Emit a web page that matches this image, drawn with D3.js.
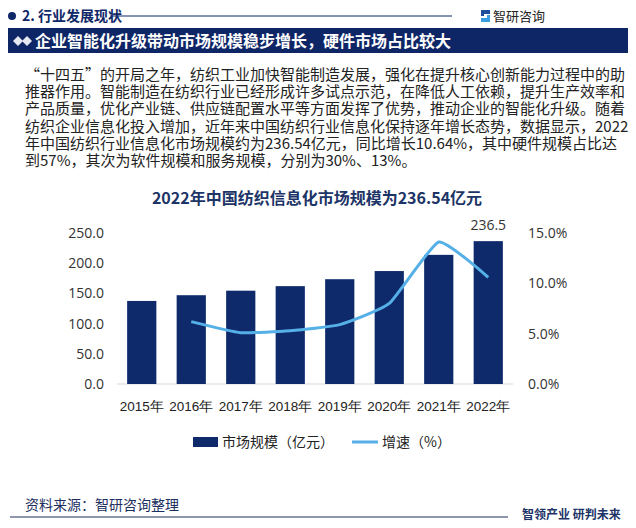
<!DOCTYPE html>
<html><head><meta charset="utf-8">
<script src="https://cdn.jsdelivr.net/npm/d3@7"></script>
<style>
html,body{margin:0;padding:0;background:#fff;}
#wrap{position:relative;width:636px;height:528px;overflow:hidden;}
svg{display:block;font-family:"Noto Sans CJK SC","Noto Sans",sans-serif;}
#para{position:absolute;left:25px;top:64.5px;font-family:"Noto Sans CJK SC",sans-serif;font-size:15px;line-height:17.4px;color:#222;white-space:nowrap;}
#para div{height:17.4px;}
</style></head>
<body>
<div id="wrap">
<svg id="c" width="636" height="528"></svg>
<div id="para"></div>
</div>
<script>
const years = ["2015年","2016年","2017年","2018年","2019年","2020年","2021年","2022年"];
const marketSize = [137.5, 147.0, 154.5, 162.0, 173.5, 187.0, 213.8, 236.5];
const growth = [null, 6.2, 5.1, 5.3, 5.9, 8.0, 14.1, 10.6];
const leftTicks = [0, 50, 100, 150, 200, 250];
const rightTicks = [0, 5, 10, 15];
const paragraph = [
 "“十四五”的开局之年，纺织工业加快智能制造发展，强化在提升核心创新能力过程中的助",
 "推器作用。智能制造在纺织行业已经形成许多试点示范，在降低人工依赖，提升生产效率和",
 "产品质量，优化产业链、供应链配置水平等方面发挥了优势，推动企业的智能化升级。随着",
 "纺织企业信息化投入增加，近年来中国纺织行业信息化保持逐年增长态势，数据显示，2022",
 "年中国纺织行业信息化市场规模约为236.54亿元，同比增长10.64%，其中硬件规模占比达",
 "到57%，其次为软件规模和服务规模，分别为30%、13%。"
];
const sectionTitle = "2. 行业发展现状";
const bannerTitle = "企业智能化升级带动市场规模稳步增长，硬件市场占比较大";
const chartTitle = "2022年中国纺织信息化市场规模为236.54亿元";
const legendLabels = ["市场规模（亿元）", "增速（%）"];
const source = "资料来源：智研咨询整理";

const navy = "#0f2868";
const barColor = "#0e2a6b";
const lineColor = "#55b0e8";
const svg = d3.select("#c");

// header
svg.append("circle").attr("cx", 12).attr("cy", 16).attr("r", 4).attr("fill", navy);
svg.append("text").attr("x", 22).attr("y", 21).attr("font-size", 14).attr("font-weight", "bold")
  .attr("fill", navy).text(sectionTitle);
svg.append("line").attr("x1", 110).attr("x2", 452).attr("y1", 16).attr("y2", 16)
  .attr("stroke", navy).attr("stroke-width", 1);
const lg = svg.append("g").attr("transform", "translate(481,10)");
lg.append("path").attr("d", "M0,0 H9 V4 H3 V6 H0 Z").attr("fill", "#1d4f9c");
lg.append("path").attr("d", "M9,5 V12 H0 V8 H6 V5 Z").attr("fill", "#3a9ee0");
svg.append("text").attr("x", 493).attr("y", 21).attr("font-size", 13).attr("fill", "#222").text("智研咨询");

// banner
svg.append("rect").attr("x", 8).attr("y", 28).attr("width", 620).attr("height", 25).attr("fill", "#0f2666");
[[18, 41], [27, 41]].forEach(([cx, cy]) => {
  svg.append("path").attr("d", `M${cx},${cy-5} L${cx+5},${cy} L${cx},${cy+5} L${cx-5},${cy} Z`)
    .attr("fill", "#fff").attr("opacity", 0.9);
});
svg.append("text").attr("x", 35).attr("y", 46.5).attr("font-size", 16).attr("font-weight", "bold")
  .attr("fill", "#fff").text(bannerTitle);

// paragraph (HTML lines)
d3.select("#para").selectAll("div").data(paragraph).join("div").text(d => d);

// chart
const x = d3.scaleBand().domain(years).range([117, 513]).paddingInner(0.41).paddingOuter(0.205);
const yL = d3.scaleLinear().domain([0, 250]).range([384, 233]);
const yR = d3.scaleLinear().domain([0, 15]).range([384, 233]);

svg.append("text").attr("x", 317).attr("y", 204).attr("text-anchor", "middle").attr("font-size", 16)
  .attr("font-weight", "bold").attr("fill", "#1c3466").text(chartTitle);

const axL = d3.axisLeft(yL).tickValues(leftTicks).tickFormat(d3.format(".1f")).tickSize(0).tickPadding(0);
const gL = svg.append("g").attr("transform", "translate(104,0)").call(axL);
gL.select(".domain").remove();
gL.selectAll("text").attr("font-size", 14).attr("fill", "#333").attr("font-family", "'Open Sans','Noto Sans',sans-serif");

const axR = d3.axisRight(yR).tickValues(rightTicks).tickFormat(d => d3.format(".1f")(d) + "%").tickSize(0).tickPadding(0);
const gR = svg.append("g").attr("transform", "translate(528,0)").call(axR);
gR.select(".domain").remove();
gR.selectAll("text").attr("font-size", 14).attr("fill", "#333").attr("font-family", "'Open Sans','Noto Sans',sans-serif");

svg.append("line").attr("x1", 117).attr("x2", 513).attr("y1", yL(0)).attr("y2", yL(0))
  .attr("stroke", "#d9d9d9").attr("stroke-width", 1);

svg.append("g").selectAll("rect").data(marketSize).join("rect")
  .attr("x", (d, i) => x(years[i])).attr("width", x.bandwidth())
  .attr("y", d => yL(d)).attr("height", d => yL(0) - yL(d)).attr("fill", barColor);

svg.append("text").attr("x", x(years[7]) + x.bandwidth() / 2).attr("y", yL(marketSize[7]) - 11)
  .attr("text-anchor", "middle").attr("font-size", 14).attr("fill", "#333")
  .attr("font-family", "'Open Sans','Noto Sans',sans-serif").text(marketSize[7].toFixed(1));

const axX = d3.axisBottom(x).tickSize(0).tickPadding(0);
const gX = svg.append("g").attr("transform", "translate(0,401)").call(axX);
gX.select(".domain").remove();
gX.selectAll("text").attr("font-size", 13.5).attr("fill", "#222").attr("dy", "0.71em");

const pts = growth.map((g, i) => ({ g, i })).filter(p => p.g !== null);
const line = d3.line().x(p => x(years[p.i]) + x.bandwidth() / 2).y(p => yR(p.g)).curve(d3.curveCardinal.tension(0.55));
svg.append("path").datum(pts).attr("d", line).attr("fill", "none")
  .attr("stroke", lineColor).attr("stroke-width", 3).attr("stroke-linejoin", "round");

svg.append("rect").attr("x", 193).attr("y", 437).attr("width", 25).attr("height", 10).attr("fill", barColor);
svg.append("text").attr("x", 222).attr("y", 447).attr("font-size", 14).attr("fill", "#222").text(legendLabels[0]);
svg.append("line").attr("x1", 352).attr("x2", 378).attr("y1", 442).attr("y2", 442)
  .attr("stroke", lineColor).attr("stroke-width", 3);
svg.append("text").attr("x", 382).attr("y", 447).attr("font-size", 14).attr("fill", "#222").text(legendLabels[1]);

svg.append("text").attr("x", 25).attr("y", 510).attr("font-size", 14).attr("fill", "#1c2f5e").text(source);
svg.append("line").attr("x1", 10).attr("x2", 508).attr("y1", 517).attr("y2", 517)
  .attr("stroke", "#1c2f5e").attr("stroke-width", 1.2);
svg.append("text").attr("x", 522).attr("y", 519).attr("font-size", 12).attr("font-weight", "bold")
  .attr("fill", "#1c3466").text("智领产业 研判未来");
</script>
</body></html>
